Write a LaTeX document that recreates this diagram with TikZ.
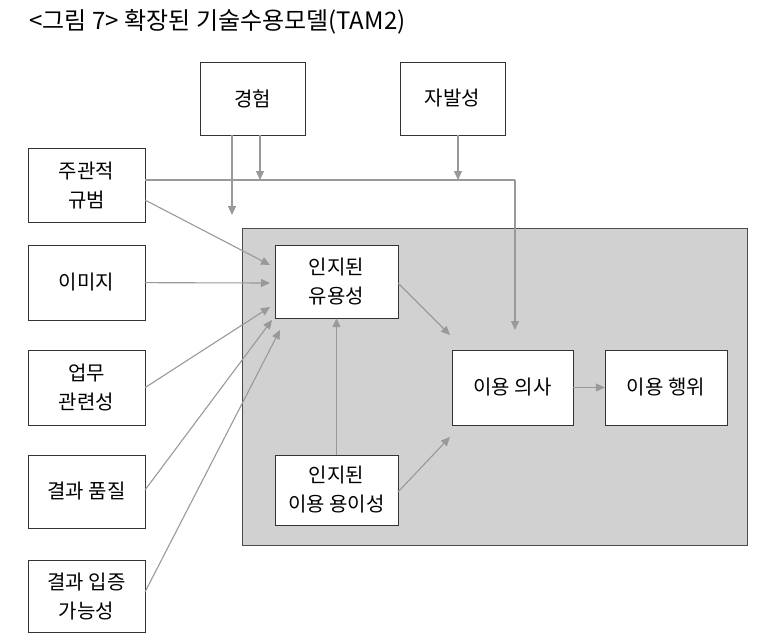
\documentclass[tikz,border=0pt]{standalone}
\usepackage{fontspec}
\setmainfont{Noto Sans CJK KR}
\usetikzlibrary{arrows.meta}
\begin{document}
\begin{tikzpicture}[x=1pt,y=-1pt,>={Triangle[length=9pt,width=8pt]}]
    \tikzstyle{box}=[draw=black!80,fill=white,inner sep=0pt,align=center,font=\fontsize{20}{29}\selectfont]
    \tikzstyle{link}=[->,draw=black!40,line width=1.1pt]
    \useasboundingbox (0,0) rectangle (761,643);

    %%% TITLE AND AREA
    \node[anchor=west,font=\fontsize{24}{28}\selectfont] (title) at (26,22) {<그림 7> 확장된 기술수용모델(TAM2)};
    \node[draw=black!70,fill=black!18,minimum width=505,minimum height=317,anchor=north west] (area) at (242,228) {};

    %%% DRAW THE NODES
    \node[box,minimum width=105,minimum height=73] (exp) at (252.5,98.5) {경험};
    \node[box,minimum width=105,minimum height=73] (vol) at (452.5,98.5) {자발성};
    \node[box,minimum width=117,minimum height=74] (sn) at (86.5,185) {주관적\\규범};
    \node[box,minimum width=117,minimum height=75] (img) at (86.5,282.5) {이미지};
    \node[box,minimum width=117,minimum height=75] (job) at (86.5,387.5) {업무\\관련성};
    \node[box,minimum width=117,minimum height=73] (oq) at (86.5,491.5) {결과 품질};
    \node[box,minimum width=117,minimum height=72] (rd) at (86.5,596) {결과 입증\\가능성};
    \node[box,minimum width=123,minimum height=73] (pu) at (336.5,281.5) {인지된\\유용성};
    \node[box,minimum width=123,minimum height=70] (peou) at (336.5,490) {인지된\\이용 용이성};
    \node[box,minimum width=121,minimum height=75] (bi) at (512.5,387.5) {이용 의사};
    \node[box,minimum width=122,minimum height=75] (ub) at (666,387.5) {이용 행위};
    \coordinate (turn) at (515,180);
    \coordinate (e1) at (232,215);
    \coordinate (e2) at (260,180);
    \coordinate (v1) at (458,180);

    %%% DRAW THE PATHS
    \draw[link,-] (sn.east |- turn) -- (turn);
    \draw[link] (turn) -- (515,330);
    \draw[link] (exp.south -| e1) -- (e1);
    \draw[link] (exp.south -| e2) -- (e2);
    \draw[link] (vol.south -| v1) -- (v1);
    \draw[link] (145,200) -- (270,265);
    \draw[link] (img) -- (270,283);
    \draw[link] (job.east) -- (270,307);
    \draw[link] (145,490) -- (272,320);
    \draw[link] (145,592) -- (280,330);
    \draw[link] (peou) -- (pu);
    \draw[link] (398,283) -- (450,335);
    \draw[link] (398,492) -- (450,437);
    \draw[link] (bi) -- (ub);
\end{tikzpicture}
\end{document}
